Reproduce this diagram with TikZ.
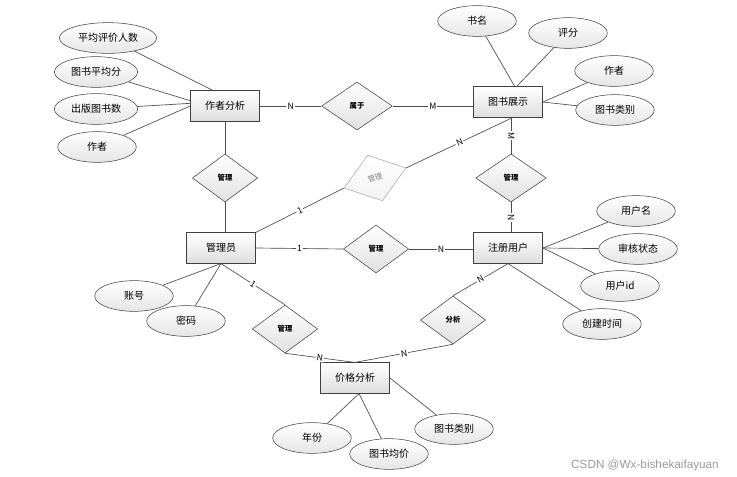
\documentclass[tikz,border=0pt]{standalone}
\usepackage{fontspec}
\setmainfont{Noto Sans CJK SC}
\newfontfamily\markfont{Liberation Sans}
\usetikzlibrary{shapes.geometric}

\tikzset{
  entity/.style={draw=black!75, rectangle, top color=white, bottom color=black!13, minimum width=52pt, minimum height=23pt, font=\fontsize{7.5}{9}\selectfont},
  attr/.style={draw=black!75, ellipse, top color=white, bottom color=black!10, minimum width=59pt, minimum height=23pt, font=\fontsize{7.5}{9}\selectfont},
  rel/.style={draw=black!75, diamond, top color=white, bottom color=black!12, inner sep=0pt, minimum width=49pt, minimum height=36pt, font=\fontsize{5.5}{6}\selectfont\bfseries},
  link/.style={draw=black!70, line width=0.5pt},
  card/.style={fill=white, inner sep=0.8pt, sloped, font=\fontsize{6.5}{7}\selectfont}
}

\begin{document}
\begin{tikzpicture}[x=0.75pt,y=-0.75pt]
\useasboundingbox (0,0) rectangle (737,477);
% entities
\node[entity] (AUTH) at (225,106) {作者分析};
\node[entity] (BOOK) at (508,102) {图书展示};
\node[entity] (ADMIN) at (221,248) {管理员};
\node[entity] (USER) at (508,248) {注册用户};
\node[entity] (PRICE) at (355,378) {价格分析};

% relations
\node[rel, minimum width=53pt] (BELONG) at (357,106) {属于};
\node[rel] (GLA) at (225,178) {管理};
\node[rel, minimum width=53pt] (GLB) at (511,178) {管理};
\node[rel] (GLC) at (376,249) {管理};
\node[rel] (GLD) at (285,329) {管理};
\node[rel] (ANLY) at (453,320) {分析};
\node[rel, draw=black!35, bottom color=black!5, text=black!50, font=\fontsize{5.5}{6}\selectfont, rotate=18] (GLE) at (375,178) {管理};

% attributes
\node[attr] (AVGN) at (108,38) {平均评价人数};
\node[attr] (AVGS) at (96,72) {图书平均分};
\node[attr] (PUBN) at (96,109) {出版图书数};
\node[attr] (WRITER) at (97,147) {作者};
\node[attr] (BNAME) at (477,21) {书名};
\node[attr] (SCORE) at (568,33) {评分};
\node[attr] (BAUTH) at (614,71) {作者};
\node[attr] (BTYPE) at (615,110) {图书类别};
\node[attr] (UNAME) at (636,211) {用户名};
\node[attr] (CHECK) at (638,249) {审核状态};
\node[attr] (UID) at (620,286) {用户id};
\node[attr] (CTIME) at (602,324) {创建时间};
\node[attr] (ACCT) at (134,296) {账号};
\node[attr] (PWD) at (186,321) {密码};
\node[attr] (YEAR) at (312,438) {年份};
\node[attr] (AVGP) at (389,454) {图书均价};
\node[attr] (PTYPE) at (454,429) {图书类别};

% relation links
\draw[link] (AUTH.east) -- node[card] {N} (BELONG.west);
\draw[link] (BELONG.east) -- node[card] {M} (BELONG.east -| BOOK.west);
\draw[link] (AUTH.south) -- (GLA.north);
\draw[link] (GLA.south) -- (GLA.south |- ADMIN.north);
\draw[link] (ADMIN.north east) -- node[card] {1} (GLE.west);
\draw[link] (GLE.east) -- node[card] {N} ([xshift=3.5pt]BOOK.south);
\draw[link] (GLB.north |- BOOK.south) -- node[card] {M} (GLB.north);
\draw[link] (GLB.south) -- node[card] {N} (GLB.south |- USER.north);
\draw[link] (ADMIN.east) -- node[card] {1} (GLC.west);
\draw[link] (GLC.east) -- node[card] {N} (GLC.east -| USER.west);
\draw[link] (ADMIN.south) -- node[card] {1} (GLD.north);
\draw[link] (GLD.south) -- node[card] {N} (PRICE.north);
\draw[link] (USER.south) -- node[card] {N} (ANLY.north);
\draw[link] (ANLY.south) -- node[card] {N} (PRICE.north);

% attribute links
\draw[link] (AVGN) -- ([xshift=-9pt]AUTH.north);
\draw[link] (AVGS) -- ([yshift=4pt]AUTH.west);
\draw[link] (PUBN) -- ([yshift=2pt]AUTH.west);
\draw[link] (WRITER) -- (AUTH.west);
\draw[link] (BNAME) -- ([xshift=5pt]BOOK.north);
\draw[link] (SCORE) -- ([xshift=6.5pt]BOOK.north);
\draw[link] (BAUTH) -- (BOOK.east);
\draw[link] (BTYPE) -- (BOOK.east);
\draw[link] (UNAME) -- (USER.east);
\draw[link] (CHECK) -- (USER.east);
\draw[link] (UID) -- (USER.east);
\draw[link] (CTIME) -- (USER.south);
\draw[link] (ACCT) -- (ADMIN.south);
\draw[link] (PWD) -- (ADMIN.south);
\draw[link] (YEAR) -- ([xshift=3pt]PRICE.south);
\draw[link] (AVGP) -- ([xshift=3pt]PRICE.south);
\draw[link] (PTYPE) -- (PRICE.east);

\node[text=black!40, font=\markfont\fontsize{8.8}{10}\selectfont] (MARK) at (645,465) {CSDN @Wx-bishekaifayuan};
\end{tikzpicture}
\end{document}
